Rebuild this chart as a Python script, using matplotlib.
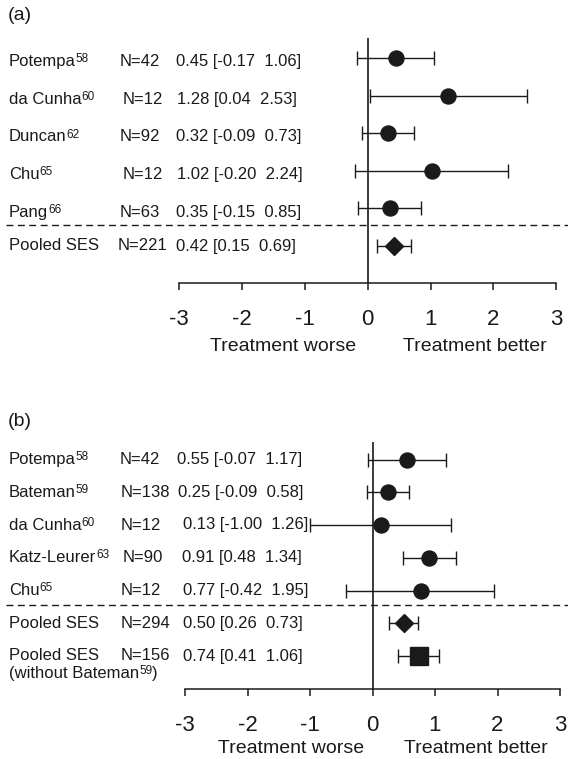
import matplotlib
matplotlib.use("Agg")
import matplotlib.pyplot as plt
import matplotlib.transforms as mtransforms

# panel (a) data
a_names = ["Potempa", "da Cunha", "Duncan", "Chu", "Pang", "Pooled SES"]
a_refs = ["58", "60", "62", "65", "66", ""]
a_n = [42, 12, 92, 12, 63, 221]
a_est = [0.45, 1.28, 0.32, 1.02, 0.35, 0.42]
a_lo = [-0.17, 0.04, -0.09, -0.20, -0.15, 0.15]
a_hi = [1.06, 2.53, 0.73, 2.24, 0.85, 0.69]

# panel (b) data
b_names = ["Potempa", "Bateman", "da Cunha", "Katz-Leurer", "Chu", "Pooled SES", "Pooled SES"]
b_refs = ["58", "59", "60", "63", "65", "", ""]
b_n = [42, 138, 12, 90, 12, 294, 156]
b_est = [0.55, 0.25, 0.13, 0.91, 0.77, 0.50, 0.74]
b_lo = [-0.07, -0.09, -1.00, 0.48, -0.42, 0.26, 0.41]
b_hi = [1.17, 0.58, 1.26, 1.34, 1.95, 0.73, 1.06]

ticks = [-3, -2, -1, 0, 1, 2, 3]
x_labels = ["Treatment worse", "Treatment better"]

plt.rcParams["font.family"] = ["Liberation Sans", "DejaVu Sans"]

W, H = 568, 759
INK = "#1a1a1a"
FS = 12
fig = plt.figure(figsize=(W / 100, H / 100), dpi=100)


def with_ref(ax, x, y, name, ref, tr):
    # name plus a small raised reference number
    t = ax.text(x, y, name, transform=tr, fontsize=FS, va="center", color=INK)
    s = None
    if ref:
        s = ax.annotate(ref, xy=(1, 0), xycoords=t, xytext=(0, 5.0),
                        textcoords="offset points", fontsize=8.5, va="baseline",
                        color=INK)
    return t, s


def forest(lay, names, refs, n, est, lo, hi, markers, ms):
    # axes spans the full width, so axes fraction == pixel / W
    ax = fig.add_axes([0, 1 - lay["spine"] / H, 1, (lay["spine"] - lay["top"]) / H])
    x0 = -lay["zero"] / lay["unit"]
    ax.set_xlim(x0, x0 + W / lay["unit"])
    ax.set_ylim((lay["spine"] - lay["row0"]) / lay["rowh"],
                (lay["top"] - lay["row0"]) / lay["rowh"])
    ax.patch.set_visible(False)
    for s in ["top", "right", "left"]:
        ax.spines[s].set_visible(False)
    ax.spines["bottom"].set_bounds(-3, 3)
    ax.spines["bottom"].set_linewidth(1.1)
    ax.spines["bottom"].set_color(INK)
    ax.set_yticks([])
    ax.set_xticks(ticks)
    ax.set_xticklabels([str(t) for t in ticks], fontsize=16)
    ax.tick_params(axis="x", direction="out", length=5, width=1.1,
                   pad=lay["pad"], color=INK, labelcolor=INK)

    ybot = ax.get_ylim()[0]
    ax.vlines(0, -0.52, ybot, color=INK, lw=1.2)
    ax.axhline(4.45, xmin=6 / W, xmax=1, color=INK, lw=1.0, ls=(0, (5, 3.2)))

    tr = mtransforms.blended_transform_factory(ax.transAxes, ax.transData)
    for i in range(len(names)):
        ax.errorbar(est[i], i, xerr=[[est[i] - lo[i]], [hi[i] - est[i]]],
                    fmt=markers[i], ms=ms[i], color=INK, ecolor=INK,
                    elinewidth=1.0, capsize=4.7, capthick=1.0)
        y = i + lay["dy"][i]
        with_ref(ax, 9 / W, y, names[i], refs[i], tr)
        ax.text(lay["nx"][i] / W, y, "N=%d" % n[i], transform=tr,
                fontsize=FS, va="center", color=INK)
        ax.text(lay["ex"][i] / W, y,
                "%.2f [%.2f  %.2f]" % (est[i], lo[i], hi[i]),
                transform=tr, fontsize=FS, va="center", color=INK)

    for x, txt in zip(lay["lab_x"], x_labels):
        ax.annotate(txt, xy=(x, 0), xycoords=("data", "axes fraction"),
                    xytext=(0, -lay["lab_gap"]), textcoords="offset points",
                    ha="center", va="center", fontsize=14, color=INK)
    return ax, tr


lay_a = dict(top=0, spine=283, zero=367.7, unit=62.8, row0=58, rowh=37.6,
             nx=[120, 123, 120, 123, 120, 118], ex=[176, 177, 176, 177, 176, 176],
             dy=[0.1] * 5 + [0], lab_x=[-1.35, 1.71], lab_gap=45.5, pad=14)
forest(lay_a, a_names, a_refs, a_n, a_est, a_lo, a_hi,
       ["o"] * 5 + ["D"], [10.8] * 5 + [9])
fig.text(8 / W, 1 - 15.5 / H, "(a)", fontsize=14, va="center", color=INK)

lay_b = dict(top=380, spine=689, zero=372.5, unit=62.5, row0=459.5, rowh=32.75,
             nx=[120, 121, 121, 123, 121, 121, 121],
             ex=[177, 178, 183, 182, 183, 183, 183],
             dy=[0] * 7, lab_x=[-1.3, 1.65], lab_gap=42.5, pad=14)
ax_b, tr_b = forest(lay_b, b_names, b_refs, b_n, b_est, b_lo, b_hi,
                    ["o"] * 5 + ["D", "s"], [10.8] * 5 + [9, 12.3])
fig.text(8 / W, 1 - 421 / H, "(b)", fontsize=14, va="center", color=INK)
sub, sup = with_ref(ax_b, 9 / W, 6.52, "(without Bateman", "59", tr_b)
ax_b.annotate(")", xy=(1, 0), xycoords=(sup, sub), fontsize=FS,
              va="bottom", color=INK)

fig.savefig("out.png", dpi=100)
